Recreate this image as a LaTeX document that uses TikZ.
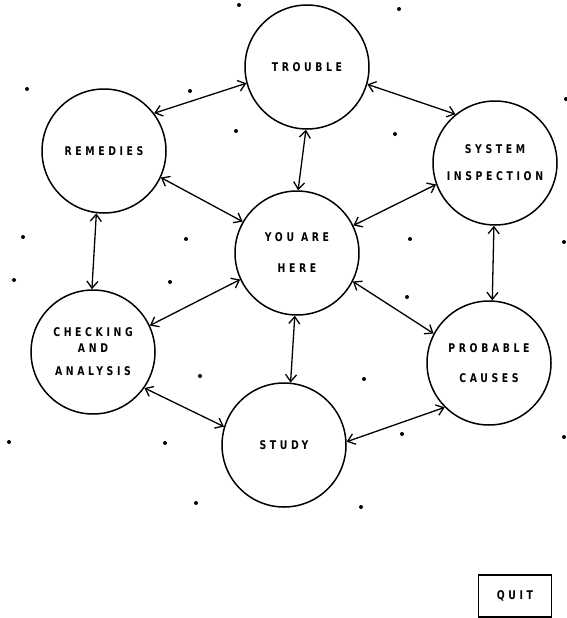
\documentclass[tikz,border=0pt]{standalone}
\usepackage{fontspec}
\usepackage{tikz}
\usetikzlibrary{arrows.meta}
\newfontfamily\lblfont{DejaVu Sans Bold}[FakeStretch=0.78, LetterSpace=30]

\begin{document}
\begin{tikzpicture}[x=1pt, y=-1pt]
    \tikzstyle{place} = [circle, draw=black, line width=1.5pt, minimum size=124pt,
                         inner sep=0pt, align=center,
                         font=\lblfont\fontsize{12}{14}\selectfont];
    \tikzstyle{speck} = [circle, fill=black, inner sep=0pt, minimum size=4pt];
    \useasboundingbox (0, 0) rectangle (567, 618);

    \node (trbl) at (307,  67) [place] {TROUBLE};
    \node (rem)  at (104, 151) [place] {REMEDIES};
    \node (sys)  at (495, 163) [place] {SYSTEM\\[13pt]INSPECTION};
    \node (here) at (297, 253) [place] {YOU ARE\\[17pt]HERE};
    \node (chk)  at ( 93, 352) [place] {CHECKING\\[2pt]AND\\[9pt]ANALYSIS};
    \node (prob) at (489, 363) [place] {PROBABLE\\[16pt]CAUSES};
    \node (stdy) at (284, 445) [place] {STUDY};

    \node (quit) at (515, 596) [draw=black, line width=1.5pt, minimum width=73pt,
        minimum height=42pt, font=\lblfont\fontsize{12}{14}\selectfont] {QUIT};

    % background specks
    \foreach \px/\py in {239/5, 399/9, 27/89, 190/91, 236/131, 395/134, 566/99,
                         23/237, 186/239, 410/239, 564/242, 14/280, 170/282,
                         407/297, 200/376, 364/379, 9/442, 165/443, 402/434,
                         564/437, 196/503, 361/507}
      \node[speck] at (\px, \py) {};

    \begin{scope}[{Straight Barb[length=7pt, width=11pt]}-{Straight Barb[length=7pt, width=11pt]}, line width=1.3pt]
      \draw (rem.37)   -- (trbl.195);
      \draw (trbl.-16) -- (sys.129);
      \draw (trbl.269) -- (here.89);
      \draw (rem.-25)  -- (here.150);
      \draw (sys.200)  -- (here.26);
      \draw (rem.263)  -- (chk.91);
      \draw (sys.269)  -- (prob.87);
      \draw (chk.25)   -- (here.205);
      \draw (here.-27) -- (prob.152);
      \draw (here.268) -- (stdy.84);
      \draw (chk.-35)  -- (stdy.163);
      \draw (stdy.3)   -- (prob.225);
    \end{scope}
  \end{tikzpicture}
\end{document}
